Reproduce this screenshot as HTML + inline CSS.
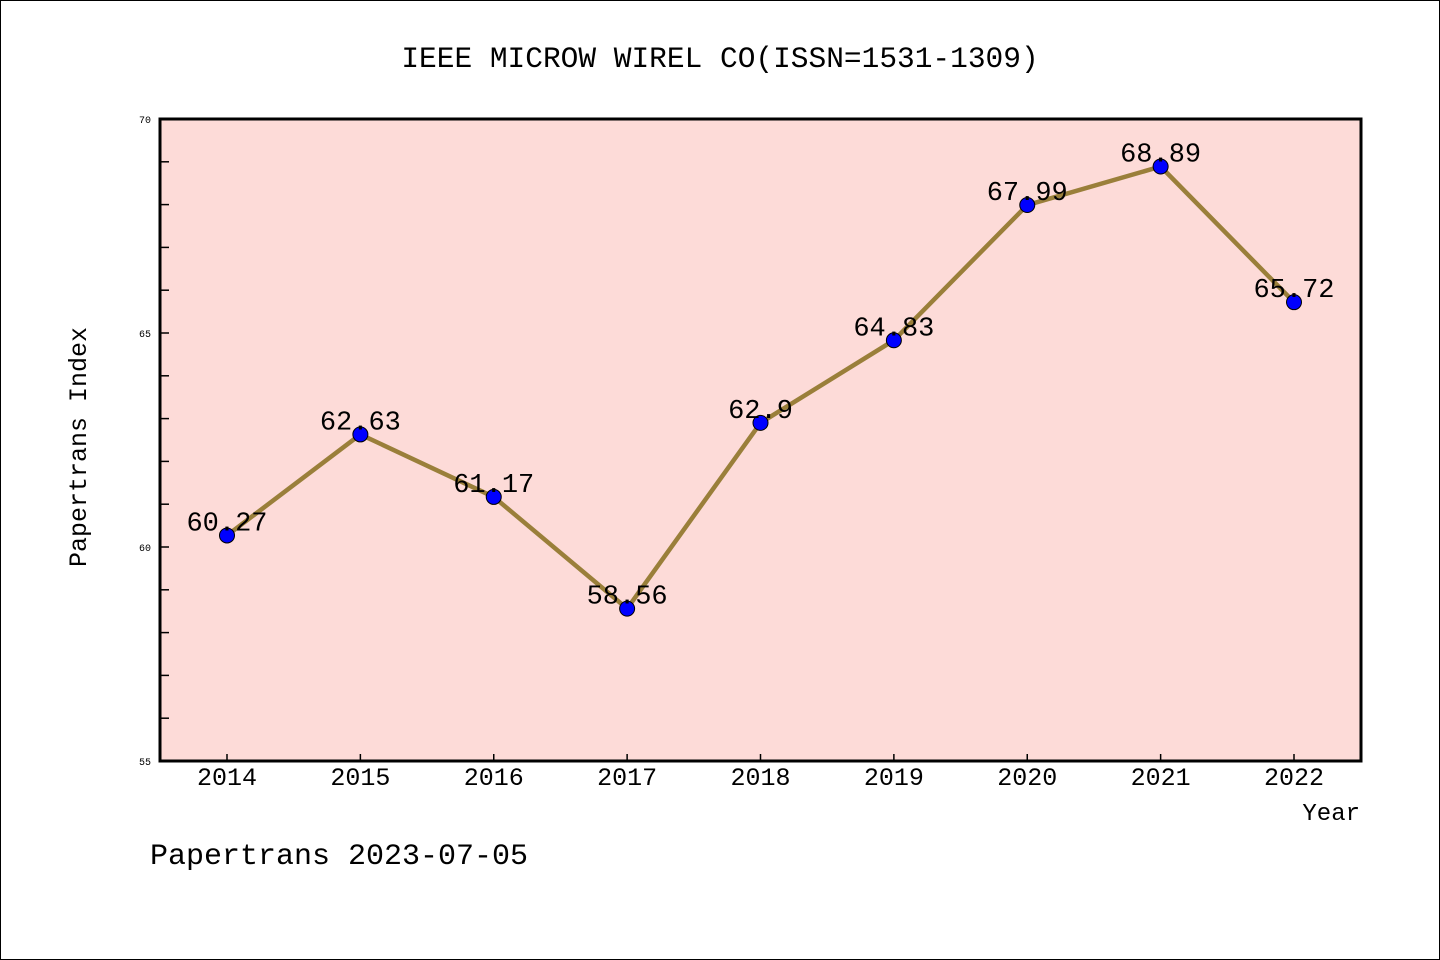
<!DOCTYPE html>
<html><head><meta charset="utf-8"><style>
html,body{margin:0;padding:0;background:#fff;}
svg{display:block;}
text{font-family:"Liberation Mono","WenQuanYi Zen Hei",monospace;fill:#000;}
</style></head><body>
<svg id="chart" width="1440" height="960" xmlns="http://www.w3.org/2000/svg">
<rect x="0.5" y="0.5" width="1439" height="959" fill="#fff" stroke="#000" stroke-width="1"/>
<text x="720" y="67" font-size="29.5" text-anchor="middle">IEEE MICROW WIREL CO(ISSN=1531-1309)</text>
<rect x="160" y="119" width="1201" height="642" fill="#fddbd8"/>
<g id="axes"></g>
<g id="series"></g>
<rect x="160" y="119" width="1201" height="642" fill="none" stroke="#000" stroke-width="3"/>
<text x="86" y="447" font-size="25" text-anchor="middle" transform="rotate(-90 86 447)">Papertrans Index</text>
<text x="1360" y="820" font-size="24" text-anchor="end">Year</text>
<text x="150" y="864" font-size="30">Papertrans 2023-07-05</text>
</svg>
<script>
const years = ["2014","2015","2016","2017","2018","2019","2020","2021","2022"];
const values = [60.27,62.63,61.17,58.56,62.9,64.83,67.99,68.89,65.72];
const labels = ["60.27","62.63","61.17","58.56","62.9","64.83","67.99","68.89","65.72"];
const yTickLabels = [55,60,65,70];
const yMin=55,yMax=70;
const NS="http://www.w3.org/2000/svg";
function xs(i){return 227+i*(1294-227)/(years.length-1);}
function ys(v){return 761-(v-yMin)/(yMax-yMin)*642;}
function mk(tag,attrs,parent){const e=document.createElementNS(NS,tag);for(const k in attrs)e.setAttribute(k,attrs[k]);parent.appendChild(e);return e;}
const axes=document.getElementById('axes'),ser=document.getElementById('series');
for(let v=yMin+1;v<yMax;v++){
  const t=mk('line',{x1:160,x2:169,y1:ys(v),y2:ys(v),stroke:'#000','stroke-width':1.5},axes);
  
  
}
yTickLabels.forEach(v=>{
  const t=mk('text',{x:151,y:ys(v)+4,'font-size':10,'text-anchor':'end'},axes);
  t.textContent=v;
  
  
});
years.forEach((y,i)=>{
  const t=mk('line',{x1:xs(i),x2:xs(i),y1:761,y2:754,stroke:'#000','stroke-width':1.5},axes);
  
  
  const l=mk('text',{x:xs(i),y:785,'font-size':25,'text-anchor':'middle'},axes);
  l.textContent=y;
  
  
});
const pts=values.map((v,i)=>xs(i)+','+ys(v)).join(' ');
const line=mk('polyline',{points:pts,fill:'none',stroke:'#9a7f3a','stroke-width':4.5,'stroke-linejoin':'round'},ser);


values.forEach((v,i)=>{
  const c=mk('circle',{cx:xs(i),cy:ys(v),r:7.5,fill:'#0000ff',stroke:'#000','stroke-width':1},ser);
  
  
});
values.forEach((v,i)=>{
  const t=mk('text',{x:xs(i),y:ys(v)-5,'font-size':27,'text-anchor':'middle'},ser);
  t.textContent=labels[i];
  
  
});
</script>
</body></html>
